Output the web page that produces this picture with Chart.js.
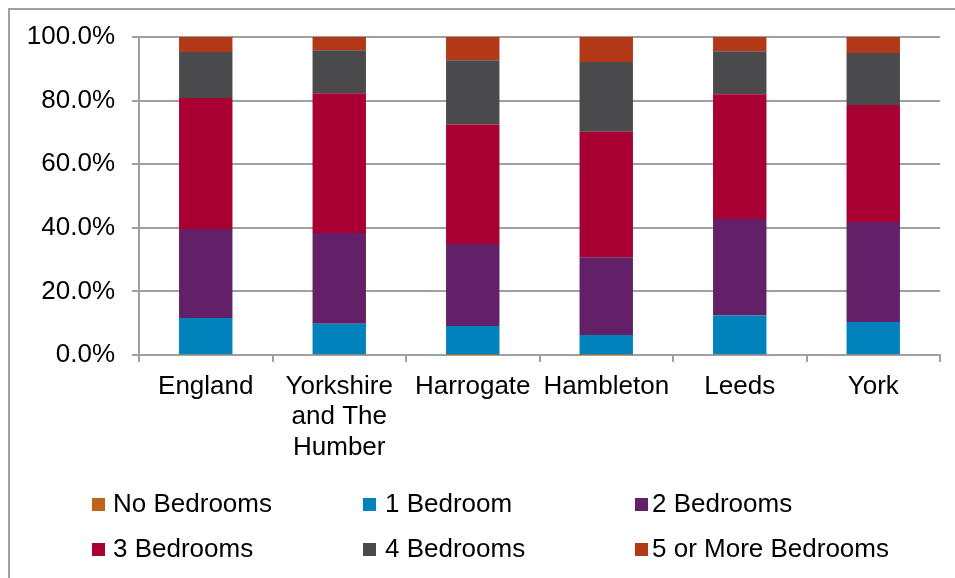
<!DOCTYPE html>
<html lang="en">
<head>
    <meta charset="UTF-8">
    <title>Bedrooms by Area</title>
    <script src="https://cdn.jsdelivr.net/npm/chart.js"></script>
    <style>
        body { margin: 0; background: #fff; overflow: hidden; font-family: "Liberation Sans", Arial, sans-serif; }
        .wrap { position: relative; width: 955px; height: 578px; }
        .frame { position: absolute; left: 8px; top: 8px; width: 1000px; height: 700px;
                 border-left: 2px solid #a0a0a0; border-top: 2px solid #a0a0a0; }
        canvas { position: absolute; left: 0; top: 0; }
        .legend-text { position: absolute; font-size: 26px; color: #000; white-space: nowrap; line-height: 30px; }
        .legend-box { position: absolute; width: 13px; height: 13px; }
    </style>
</head>
<body>
    <div class="wrap">
        <div class="frame"></div>
        <canvas id="chart" width="955" height="578"></canvas>
        <div id="legend"></div>
    </div>

    <script>
        // Categories and series (percent of dwellings)
        const areas = ['England', ['Yorkshire', 'and The', 'Humber'], 'Harrogate', 'Hambleton', 'Leeds', 'York'];
        const noBedrooms = [0.2, 0.2, 0.1, 0.1, 0.2, 0.2];
        const oneBedroom = [11.4, 9.6, 9.0, 6.2, 12.2, 10.2];
        const twoBedrooms = [28.0, 28.6, 25.8, 24.4, 30.4, 31.4];
        const threeBedrooms = [41.2, 43.9, 37.6, 39.5, 39.2, 36.8];
        const fourBedrooms = [14.5, 13.5, 20.2, 21.9, 13.5, 16.4];
        const fivePlusBedrooms = [4.7, 4.2, 7.3, 7.9, 4.5, 5.0];
        const seriesNames = ['No Bedrooms', '1 Bedroom', '2 Bedrooms', '3 Bedrooms', '4 Bedrooms', '5 or More Bedrooms'];
        const yTicks = [0, 20, 40, 60, 80, 100];

        const colors = ['#C0631A', '#0082BD', '#632069', '#A90034', '#4A4A4C', '#B23818'];
        const series = [noBedrooms, oneBedroom, twoBedrooms, threeBedrooms, fourBedrooms, fivePlusBedrooms];

        const gridColor = '#a0a0a0';
        const font = { family: '"Liberation Sans", Arial, sans-serif', size: 26 };

        new Chart(document.getElementById('chart'), {
            type: 'bar',
            data: {
                labels: areas,
                datasets: series.map((d, i) => ({
                    label: seriesNames[i],
                    data: d,
                    backgroundColor: colors[i],
                    borderWidth: 0,
                    categoryPercentage: 1.0,
                    barPercentage: 0.4
                }))
            },
            options: {
                responsive: false,
                devicePixelRatio: 1,
                animation: false,
                layout: { padding: { top: 37, right: 15, left: 0, bottom: 0 } },
                plugins: {
                    legend: { display: false },
                    tooltip: { enabled: false }
                },
                scales: {
                    x: {
                        stacked: true,
                        grid: { drawOnChartArea: false, color: gridColor, lineWidth: 2, tickLength: 7 },
                        border: { color: gridColor, width: 2 },
                        ticks: { color: '#000', font: { ...font, lineHeight: 1.16 }, padding: 10, maxRotation: 0, autoSkip: false },
                        afterFit: s => { s.height = 223; }
                    },
                    y: {
                        stacked: true,
                        min: 0,
                        max: 100,
                        afterBuildTicks: s => { s.ticks = yTicks.map(v => ({ value: v })); },
                        grid: { color: gridColor, lineWidth: 2, tickLength: 7 },
                        border: { color: gridColor, width: 2 },
                        ticks: { color: '#000', font: font, padding: 17, callback: v => v.toFixed(1) + '%' },
                        afterFit: s => { s.width = 139; }
                    }
                }
            }
        });

        // Legend laid out in a 3 x 2 grid like the original: [box x, text x, row top]
        const legendPos = [[92, 113, 488], [363, 385, 488], [635, 652, 488],
                           [92, 113, 533], [363, 385, 533], [635, 652, 533]];
        const legend = document.getElementById('legend');
        seriesNames.forEach((name, i) => {
            const [bx, tx, top] = legendPos[i];
            const box = document.createElement('div');
            box.className = 'legend-box';
            box.style.left = bx + 'px';
            box.style.top = (top + 10) + 'px';
            box.style.background = colors[i];
            legend.appendChild(box);
            const txt = document.createElement('div');
            txt.className = 'legend-text';
            txt.style.left = tx + 'px';
            txt.style.top = top + 'px';
            txt.textContent = name;
            legend.appendChild(txt);
        });
    </script>
</body>
</html>
